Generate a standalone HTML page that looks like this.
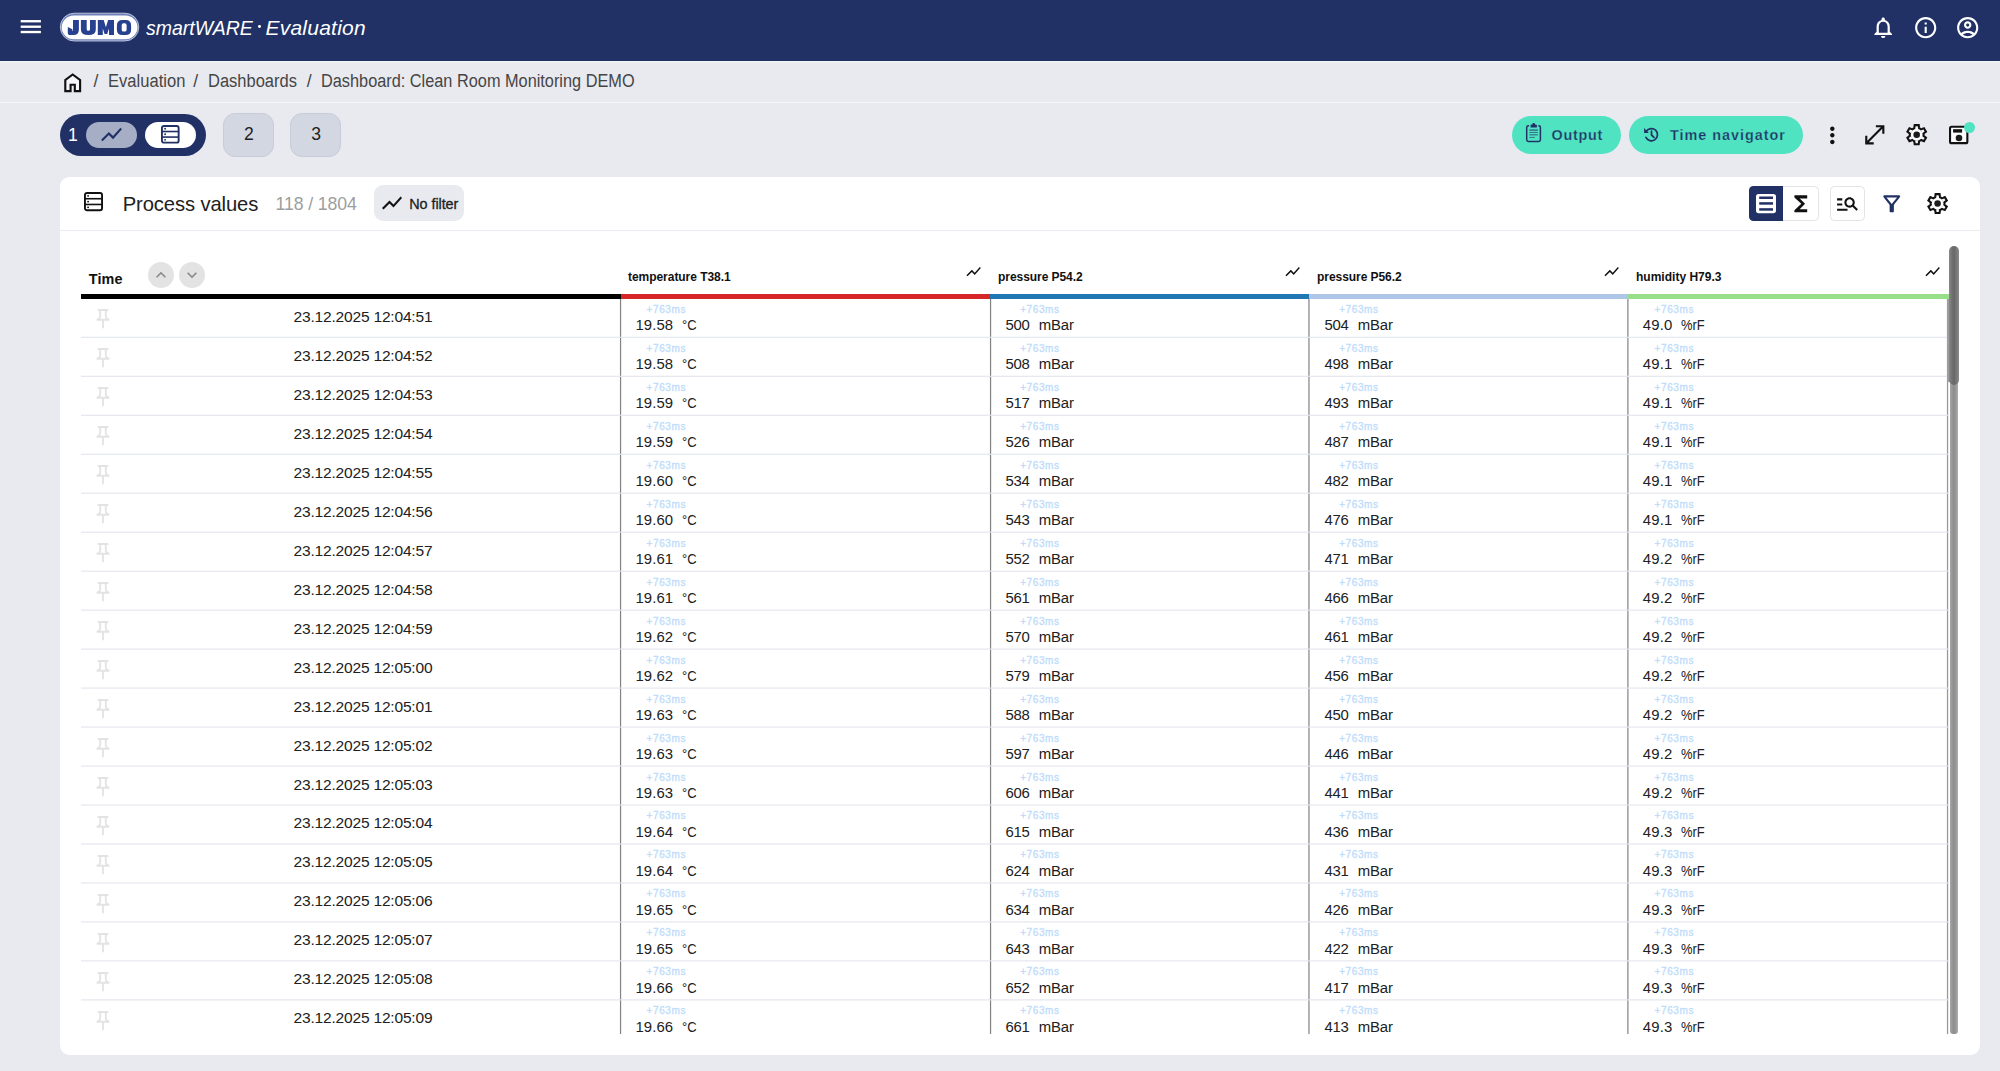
<!DOCTYPE html>
<html><head><meta charset="utf-8"><title>JUMO smartWARE Evaluation</title>
<style>
html,body{margin:0;padding:0}
body{width:2000px;height:1071px;overflow:hidden;background:#e9eaf0;font-family:"Liberation Sans",sans-serif;position:relative}
.t{position:absolute;white-space:pre;}
.a{position:absolute}
svg{position:absolute;overflow:visible}
</style></head><body>

<div class="a" style="left:0;top:0;width:2000px;height:61px;background:#213166"></div>
<div class="a" style="left:0;top:61px;width:2000px;height:2px;background:#eff0f4"></div>
<svg style="left:0;top:0" width="60" height="60" viewBox="0 0 60 60"><g fill="#fff"><rect x="20.7" y="20.05" width="20.2" height="2.35"/><rect x="20.7" y="25.55" width="20.2" height="2.35"/><rect x="20.7" y="30.85" width="20.2" height="2.35"/></g></svg>
<svg style="left:0px;top:0px" width="160" height="60" viewBox="0 0 160 60">
<rect x="60.3" y="13.2" width="78.5" height="27.8" rx="13.9" fill="#6f80b9" stroke="#d5daee" stroke-width="0.8"/>
<rect x="61.75" y="15.4" width="75.7" height="23.9" rx="11.95" fill="#fff"/>
<g fill="#27408f" stroke="none">
<path d="M73 19.9h5.9v9.6q0 5.5-5.6 5.5h-3.2q-2.3 0-2.3-2.6v-5.4l4.6 2.2v1.2q0 .5.6.5z"/>
<path d="M80.9 19.9h5.8v9.3q0 1.6 1.65 1.6t1.65-1.6v-9.3h5.8v9.6q0 5.5-7.45 5.5t-7.45-5.5z"/>
<path d="M97.8 35V19.9h5.9l2.2 7.4 2.2-7.4h5.9V35h-5v-6.6l-1.8 5.6h-2.6l-1.8-5.6V35z"/>
<path fill-rule="evenodd" d="M122.4 19.9h3.2q5.5 0 5.5 5.5v4.1q0 5.5-5.5 5.5h-3.2q-5.5 0-5.5-5.500v-4.100q0-5.500 5.500-5.500zM123.6 23.300q-1.900 0-1.900 1.900v4.500q0 1.900 1.900 1.900h1.100q1.900 0 1.900-1.900v-4.500q0-1.900-1.900-1.900z"/>
</g>
</svg>
<div class="a" style="left:258.3px;top:25.3px;width:2.8px;height:2.8px;background:#fff;border-radius:50%"></div>
<div class="a" style="left:0;top:102px;width:2000px;height:1.2px;background:#f6f6fa"></div>
<div class="a" style="left:60px;top:113.6px;width:146.4px;height:42.4px;border-radius:21.2px;background:#213166"></div>
<div class="a" style="left:85.6px;top:121.6px;width:51.2px;height:26.2px;border-radius:13.1px;background:#a6aec6"></div>
<div class="a" style="left:144.8px;top:121.6px;width:51.2px;height:26.2px;border-radius:13.1px;background:#fff"></div>
<div class="a" style="left:223.2px;top:112.8px;width:50.4px;height:44px;border-radius:12px;background:#d3d7e2;box-sizing:border-box;border:1px solid #c8ccd9"></div>
<div class="a" style="left:290.4px;top:112.8px;width:50.4px;height:44px;border-radius:12px;background:#d3d7e2;box-sizing:border-box;border:1px solid #c8ccd9"></div>
<div class="a" style="left:1511.5px;top:116px;width:109.5px;height:38px;border-radius:19px;background:#50e3c2"></div>
<div class="a" style="left:1629.3px;top:116px;width:174px;height:38px;border-radius:19px;background:#50e3c2"></div>
<div class="a" style="left:60px;top:177px;width:1920px;height:878px;border-radius:9.5px;background:#fff"></div>
<div class="a" style="left:60px;top:229.8px;width:1920px;height:1.3px;background:#ebecf2"></div>
<div class="a" style="left:374px;top:185px;width:90px;height:35.6px;border-radius:9px;background:#e9eaf0"></div>
<div class="a" style="left:1749.2px;top:186px;width:69.5px;height:34.5px;border-radius:4.5px;background:#fff;box-sizing:border-box;border:1px solid #e3e3e8"></div>
<div class="a" style="left:1749.2px;top:186px;width:33.8px;height:34.5px;border-radius:4.5px 0 0 4.5px;background:#213166"></div>
<div class="a" style="left:1829.5px;top:186px;width:35.2px;height:34.5px;border-radius:4.5px;background:#fff;box-sizing:border-box;border:1px solid #e3e3e8"></div>
<div class="a" style="left:60px;top:240px;width:1920px;height:794px;overflow:hidden"><div class="a" style="left:-60px;top:-240px;width:2000px;height:1071px">
<div class="a" style="left:81px;top:294px;width:540px;height:4.9px;background:#000"></div>
<div class="a" style="left:621px;top:294px;width:369px;height:4.9px;background:#d62728"></div>
<div class="a" style="left:990px;top:294px;width:319px;height:4.9px;background:#1f77b4"></div>
<div class="a" style="left:1309px;top:294px;width:319px;height:4.9px;background:#aec7e8"></div>
<div class="a" style="left:1628px;top:294px;width:321px;height:4.9px;background:#98df8a"></div>
<div class="a" style="left:147.5px;top:262.29999999999995px;width:26.2px;height:26.2px;border-radius:50%;background:#e3e3e3"></div>
<div class="a" style="left:178.8px;top:262.29999999999995px;width:26.2px;height:26.2px;border-radius:50%;background:#e3e3e3"></div>
<svg style="left:0;top:0" width="2000" height="1071" viewBox="0 0 2000 1071"><rect x="619.95" y="299" width="1.2" height="760" fill="#828282"/><rect x="989.95" y="299" width="1.2" height="760" fill="#828282"/><rect x="1308.35" y="299" width="1.2" height="760" fill="#828282"/><rect x="1627.30" y="299" width="1.2" height="760" fill="#828282"/><rect x="1946.9" y="299" width="1.3" height="760" fill="#999"/><rect x="81" y="336.75" width="1867" height="1.15" fill="#e4e6ee"/><rect x="81" y="375.72" width="1867" height="1.15" fill="#e4e6ee"/><rect x="81" y="414.70" width="1867" height="1.15" fill="#e4e6ee"/><rect x="81" y="453.67" width="1867" height="1.15" fill="#e4e6ee"/><rect x="81" y="492.65" width="1867" height="1.15" fill="#e4e6ee"/><rect x="81" y="531.62" width="1867" height="1.15" fill="#e4e6ee"/><rect x="81" y="570.59" width="1867" height="1.15" fill="#e4e6ee"/><rect x="81" y="609.57" width="1867" height="1.15" fill="#e4e6ee"/><rect x="81" y="648.54" width="1867" height="1.15" fill="#e4e6ee"/><rect x="81" y="687.52" width="1867" height="1.15" fill="#e4e6ee"/><rect x="81" y="726.49" width="1867" height="1.15" fill="#e4e6ee"/><rect x="81" y="765.46" width="1867" height="1.15" fill="#e4e6ee"/><rect x="81" y="804.44" width="1867" height="1.15" fill="#e4e6ee"/><rect x="81" y="843.41" width="1867" height="1.15" fill="#e4e6ee"/><rect x="81" y="882.39" width="1867" height="1.15" fill="#e4e6ee"/><rect x="81" y="921.36" width="1867" height="1.15" fill="#e4e6ee"/><rect x="81" y="960.33" width="1867" height="1.15" fill="#e4e6ee"/><rect x="81" y="999.31" width="1867" height="1.15" fill="#e4e6ee"/><rect x="81" y="1038.28" width="1867" height="1.15" fill="#e4e6ee"/></svg>
<div class="t" style="left:88.80px;top:271.81px;font-size:14.4px;line-height:14.4px;font-weight:700;color:#111;letter-spacing:0.125px;">Time</div>
<div class="t" style="left:628.00px;top:270.74px;font-size:12px;line-height:12px;font-weight:700;color:#111;letter-spacing:-0.044px;">temperature T38.1</div>
<div class="t" style="left:998.00px;top:270.74px;font-size:12px;line-height:12px;font-weight:700;color:#111;letter-spacing:-0.055px;">pressure P54.2</div>
<div class="t" style="left:1317.00px;top:270.74px;font-size:12px;line-height:12px;font-weight:700;color:#111;letter-spacing:-0.055px;">pressure P56.2</div>
<div class="t" style="left:1636.00px;top:270.74px;font-size:12px;line-height:12px;font-weight:700;color:#111;letter-spacing:0.009px;">humidity H79.3</div>
<svg style="left:92.20px;top:307.46px" width="22.000" height="23.600" viewBox="0 0 24 24" preserveAspectRatio="none"><path fill="#e3e3e3"  d="M14 4v5c0 1.120.37 2.160 1 3H9c.65-.86 1-1.900 1-3V4h4m3-2H7c-.55 0-1 .45-1 1s.45 1 1 1h1v5c0 1.660-1.340 3-3 3v2h5.970v7l1 1 1-1v-7H19v-2c-1.660 0-3-1.340-3-3V4h1c.55 0 1-.45 1-1s-.45-1-1-1z"/></svg>
<svg style="left:92.20px;top:346.42px" width="22.000" height="23.600" viewBox="0 0 24 24" preserveAspectRatio="none"><path fill="#e3e3e3"  d="M14 4v5c0 1.120.37 2.160 1 3H9c.65-.86 1-1.900 1-3V4h4m3-2H7c-.55 0-1 .45-1 1s.45 1 1 1h1v5c0 1.660-1.340 3-3 3v2h5.970v7l1 1 1-1v-7H19v-2c-1.660 0-3-1.340-3-3V4h1c.55 0 1-.45 1-1s-.45-1-1-1z"/></svg>
<svg style="left:92.20px;top:385.38px" width="22.000" height="23.600" viewBox="0 0 24 24" preserveAspectRatio="none"><path fill="#e3e3e3"  d="M14 4v5c0 1.120.37 2.160 1 3H9c.65-.86 1-1.900 1-3V4h4m3-2H7c-.55 0-1 .45-1 1s.45 1 1 1h1v5c0 1.660-1.340 3-3 3v2h5.970v7l1 1 1-1v-7H19v-2c-1.660 0-3-1.340-3-3V4h1c.55 0 1-.45 1-1s-.45-1-1-1z"/></svg>
<svg style="left:92.20px;top:424.34px" width="22.000" height="23.600" viewBox="0 0 24 24" preserveAspectRatio="none"><path fill="#e3e3e3"  d="M14 4v5c0 1.120.37 2.160 1 3H9c.65-.86 1-1.900 1-3V4h4m3-2H7c-.55 0-1 .45-1 1s.45 1 1 1h1v5c0 1.660-1.340 3-3 3v2h5.970v7l1 1 1-1v-7H19v-2c-1.660 0-3-1.340-3-3V4h1c.55 0 1-.45 1-1s-.45-1-1-1z"/></svg>
<svg style="left:92.20px;top:463.30px" width="22.000" height="23.600" viewBox="0 0 24 24" preserveAspectRatio="none"><path fill="#e3e3e3"  d="M14 4v5c0 1.120.37 2.160 1 3H9c.65-.86 1-1.900 1-3V4h4m3-2H7c-.55 0-1 .45-1 1s.45 1 1 1h1v5c0 1.660-1.340 3-3 3v2h5.970v7l1 1 1-1v-7H19v-2c-1.660 0-3-1.340-3-3V4h1c.55 0 1-.45 1-1s-.45-1-1-1z"/></svg>
<svg style="left:92.20px;top:502.26px" width="22.000" height="23.600" viewBox="0 0 24 24" preserveAspectRatio="none"><path fill="#e3e3e3"  d="M14 4v5c0 1.120.37 2.160 1 3H9c.65-.86 1-1.900 1-3V4h4m3-2H7c-.55 0-1 .45-1 1s.45 1 1 1h1v5c0 1.660-1.340 3-3 3v2h5.970v7l1 1 1-1v-7H19v-2c-1.660 0-3-1.340-3-3V4h1c.55 0 1-.45 1-1s-.45-1-1-1z"/></svg>
<svg style="left:92.20px;top:541.22px" width="22.000" height="23.600" viewBox="0 0 24 24" preserveAspectRatio="none"><path fill="#e3e3e3"  d="M14 4v5c0 1.120.37 2.160 1 3H9c.65-.86 1-1.900 1-3V4h4m3-2H7c-.55 0-1 .45-1 1s.45 1 1 1h1v5c0 1.660-1.340 3-3 3v2h5.970v7l1 1 1-1v-7H19v-2c-1.660 0-3-1.340-3-3V4h1c.55 0 1-.45 1-1s-.45-1-1-1z"/></svg>
<svg style="left:92.20px;top:580.18px" width="22.000" height="23.600" viewBox="0 0 24 24" preserveAspectRatio="none"><path fill="#e3e3e3"  d="M14 4v5c0 1.120.37 2.160 1 3H9c.65-.86 1-1.900 1-3V4h4m3-2H7c-.55 0-1 .45-1 1s.45 1 1 1h1v5c0 1.660-1.340 3-3 3v2h5.970v7l1 1 1-1v-7H19v-2c-1.660 0-3-1.340-3-3V4h1c.55 0 1-.45 1-1s-.45-1-1-1z"/></svg>
<svg style="left:92.20px;top:619.14px" width="22.000" height="23.600" viewBox="0 0 24 24" preserveAspectRatio="none"><path fill="#e3e3e3"  d="M14 4v5c0 1.120.37 2.160 1 3H9c.65-.86 1-1.900 1-3V4h4m3-2H7c-.55 0-1 .45-1 1s.45 1 1 1h1v5c0 1.660-1.340 3-3 3v2h5.970v7l1 1 1-1v-7H19v-2c-1.660 0-3-1.340-3-3V4h1c.55 0 1-.45 1-1s-.45-1-1-1z"/></svg>
<svg style="left:92.20px;top:658.10px" width="22.000" height="23.600" viewBox="0 0 24 24" preserveAspectRatio="none"><path fill="#e3e3e3"  d="M14 4v5c0 1.120.37 2.160 1 3H9c.65-.86 1-1.900 1-3V4h4m3-2H7c-.55 0-1 .45-1 1s.45 1 1 1h1v5c0 1.660-1.340 3-3 3v2h5.970v7l1 1 1-1v-7H19v-2c-1.660 0-3-1.340-3-3V4h1c.55 0 1-.45 1-1s-.45-1-1-1z"/></svg>
<svg style="left:92.20px;top:697.06px" width="22.000" height="23.600" viewBox="0 0 24 24" preserveAspectRatio="none"><path fill="#e3e3e3"  d="M14 4v5c0 1.120.37 2.160 1 3H9c.65-.86 1-1.900 1-3V4h4m3-2H7c-.55 0-1 .45-1 1s.45 1 1 1h1v5c0 1.660-1.340 3-3 3v2h5.970v7l1 1 1-1v-7H19v-2c-1.660 0-3-1.340-3-3V4h1c.55 0 1-.45 1-1s-.45-1-1-1z"/></svg>
<svg style="left:92.20px;top:736.02px" width="22.000" height="23.600" viewBox="0 0 24 24" preserveAspectRatio="none"><path fill="#e3e3e3"  d="M14 4v5c0 1.120.37 2.160 1 3H9c.65-.86 1-1.900 1-3V4h4m3-2H7c-.55 0-1 .45-1 1s.45 1 1 1h1v5c0 1.660-1.340 3-3 3v2h5.970v7l1 1 1-1v-7H19v-2c-1.660 0-3-1.340-3-3V4h1c.55 0 1-.45 1-1s-.45-1-1-1z"/></svg>
<svg style="left:92.20px;top:774.98px" width="22.000" height="23.600" viewBox="0 0 24 24" preserveAspectRatio="none"><path fill="#e3e3e3"  d="M14 4v5c0 1.120.37 2.160 1 3H9c.65-.86 1-1.900 1-3V4h4m3-2H7c-.55 0-1 .45-1 1s.45 1 1 1h1v5c0 1.660-1.340 3-3 3v2h5.970v7l1 1 1-1v-7H19v-2c-1.660 0-3-1.340-3-3V4h1c.55 0 1-.45 1-1s-.45-1-1-1z"/></svg>
<svg style="left:92.20px;top:813.94px" width="22.000" height="23.600" viewBox="0 0 24 24" preserveAspectRatio="none"><path fill="#e3e3e3"  d="M14 4v5c0 1.120.37 2.160 1 3H9c.65-.86 1-1.900 1-3V4h4m3-2H7c-.55 0-1 .45-1 1s.45 1 1 1h1v5c0 1.660-1.340 3-3 3v2h5.970v7l1 1 1-1v-7H19v-2c-1.660 0-3-1.340-3-3V4h1c.55 0 1-.45 1-1s-.45-1-1-1z"/></svg>
<svg style="left:92.20px;top:852.90px" width="22.000" height="23.600" viewBox="0 0 24 24" preserveAspectRatio="none"><path fill="#e3e3e3"  d="M14 4v5c0 1.120.37 2.160 1 3H9c.65-.86 1-1.900 1-3V4h4m3-2H7c-.55 0-1 .45-1 1s.45 1 1 1h1v5c0 1.660-1.340 3-3 3v2h5.970v7l1 1 1-1v-7H19v-2c-1.660 0-3-1.340-3-3V4h1c.55 0 1-.45 1-1s-.45-1-1-1z"/></svg>
<svg style="left:92.20px;top:891.86px" width="22.000" height="23.600" viewBox="0 0 24 24" preserveAspectRatio="none"><path fill="#e3e3e3"  d="M14 4v5c0 1.120.37 2.160 1 3H9c.65-.86 1-1.900 1-3V4h4m3-2H7c-.55 0-1 .45-1 1s.45 1 1 1h1v5c0 1.660-1.340 3-3 3v2h5.970v7l1 1 1-1v-7H19v-2c-1.660 0-3-1.340-3-3V4h1c.55 0 1-.45 1-1s-.45-1-1-1z"/></svg>
<svg style="left:92.20px;top:930.82px" width="22.000" height="23.600" viewBox="0 0 24 24" preserveAspectRatio="none"><path fill="#e3e3e3"  d="M14 4v5c0 1.120.37 2.160 1 3H9c.65-.86 1-1.900 1-3V4h4m3-2H7c-.55 0-1 .45-1 1s.45 1 1 1h1v5c0 1.660-1.340 3-3 3v2h5.970v7l1 1 1-1v-7H19v-2c-1.660 0-3-1.340-3-3V4h1c.55 0 1-.45 1-1s-.45-1-1-1z"/></svg>
<svg style="left:92.20px;top:969.78px" width="22.000" height="23.600" viewBox="0 0 24 24" preserveAspectRatio="none"><path fill="#e3e3e3"  d="M14 4v5c0 1.120.37 2.160 1 3H9c.65-.86 1-1.900 1-3V4h4m3-2H7c-.55 0-1 .45-1 1s.45 1 1 1h1v5c0 1.660-1.340 3-3 3v2h5.970v7l1 1 1-1v-7H19v-2c-1.660 0-3-1.340-3-3V4h1c.55 0 1-.45 1-1s-.45-1-1-1z"/></svg>
<svg style="left:92.20px;top:1008.74px" width="22.000" height="23.600" viewBox="0 0 24 24" preserveAspectRatio="none"><path fill="#e3e3e3"  d="M14 4v5c0 1.120.37 2.160 1 3H9c.65-.86 1-1.900 1-3V4h4m3-2H7c-.55 0-1 .45-1 1s.45 1 1 1h1v5c0 1.660-1.340 3-3 3v2h5.970v7l1 1 1-1v-7H19v-2c-1.660 0-3-1.340-3-3V4h1c.55 0 1-.45 1-1s-.45-1-1-1z"/></svg>
</div></div>
<div class="a" style="left:1947px;top:299px;width:3px;height:83px;background:#9e9e9e"></div>
<div class="a" style="left:1950px;top:380px;width:8px;height:654px;background:linear-gradient(to right,#a6a6a6,#8e8e8e 45%,#909090 60%,#adadad);border-radius:0 0 3px 3px"></div>
<div class="a" style="left:1948.6px;top:246.2px;width:10px;height:138.6px;background:linear-gradient(to right,#888,#6a6a6a 40%,#6a6a6a 55%,#8a8a8a);border-radius:5px"></div>
<div class="t" style="left:146.20px;top:16.62px;font-size:21px;line-height:21px;font-weight:400;color:#fff;letter-spacing:0.000px;transform:scaleX(0.9284);transform-origin:0 0;font-style:italic;">smartWARE</div>
<div class="t" style="left:265.40px;top:16.62px;font-size:21px;line-height:21px;font-weight:400;color:#fff;letter-spacing:0.246px;font-style:italic;">Evaluation</div>
<div class="t" style="left:93.50px;top:73.10px;font-size:17.6px;line-height:17.6px;font-weight:400;color:#454545;letter-spacing:0.000px;">/</div>
<div class="t" style="left:108.36px;top:73.10px;font-size:17.6px;line-height:17.6px;font-weight:400;color:#454545;letter-spacing:0.000px;transform:scaleX(0.9418);transform-origin:0 0;">Evaluation</div>
<div class="t" style="left:193.20px;top:73.10px;font-size:17.6px;line-height:17.6px;font-weight:400;color:#454545;letter-spacing:0.000px;">/</div>
<div class="t" style="left:208.36px;top:73.10px;font-size:17.6px;line-height:17.6px;font-weight:400;color:#454545;letter-spacing:0.000px;transform:scaleX(0.9376);transform-origin:0 0;">Dashboards</div>
<div class="t" style="left:306.80px;top:73.10px;font-size:17.6px;line-height:17.6px;font-weight:400;color:#454545;letter-spacing:0.000px;">/</div>
<div class="t" style="left:320.67px;top:73.10px;font-size:17.6px;line-height:17.6px;font-weight:400;color:#454545;letter-spacing:0.000px;transform:scaleX(0.9268);transform-origin:0 0;">Dashboard: Clean Room Monitoring DEMO</div>
<div class="t" style="left:68.00px;top:126.90px;font-size:17.6px;line-height:17.6px;font-weight:400;color:#fff;letter-spacing:0.000px;">1</div>
<div class="t" style="left:244.00px;top:125.70px;font-size:17.6px;line-height:17.6px;font-weight:400;color:#212121;letter-spacing:0.000px;">2</div>
<div class="t" style="left:311.20px;top:125.70px;font-size:17.6px;line-height:17.6px;font-weight:400;color:#212121;letter-spacing:0.000px;">3</div>
<div class="t" style="left:1551.60px;top:127.71px;font-size:14.4px;line-height:14.4px;font-weight:700;color:#213166;letter-spacing:0.689px;-webkit-text-stroke:0.25px #50e3c2;">Output</div>
<div class="t" style="left:1670.00px;top:127.71px;font-size:14.4px;line-height:14.4px;font-weight:700;color:#213166;letter-spacing:0.977px;-webkit-text-stroke:0.25px #50e3c2;">Time navigator</div>
<div class="t" style="left:122.70px;top:193.70px;font-size:20.2px;line-height:20.2px;font-weight:400;color:#212121;letter-spacing:-0.099px;">Process values</div>
<div class="t" style="left:275.60px;top:195.82px;font-size:17.7px;line-height:17.7px;font-weight:400;color:#9e9e9e;letter-spacing:-0.117px;">118 / 1804</div>
<div class="t" style="left:409.30px;top:196.61px;font-size:14.4px;line-height:14.4px;font-weight:400;color:#212121;letter-spacing:-0.074px;-webkit-text-stroke:0.3px #212121;">No filter</div>
<div class="t" style="left:293.60px;top:309.00px;font-size:15.55px;line-height:15.55px;font-weight:400;color:#212121;letter-spacing:-0.206px;">23.12.2025 12:04:51</div>
<div class="t" style="left:646.55px;top:305.00px;font-size:10px;line-height:10px;font-weight:400;color:#bedcfa;letter-spacing:0.609px;-webkit-text-stroke:0.3px #bedcfa;">+763ms</div>
<div class="t" style="left:635.40px;top:318.35px;font-size:14.9px;line-height:14.9px;font-weight:400;color:#212121;letter-spacing:0.105px;">19.58</div>
<div class="t" style="left:681.60px;top:318.35px;font-size:14.9px;line-height:14.9px;font-weight:400;color:#212121;letter-spacing:0.000px;transform:scaleX(0.8729);transform-origin:0 0;">°C</div>
<div class="t" style="left:1020.15px;top:305.00px;font-size:10px;line-height:10px;font-weight:400;color:#bedcfa;letter-spacing:0.609px;-webkit-text-stroke:0.3px #bedcfa;">+763ms</div>
<div class="t" style="left:1005.60px;top:318.35px;font-size:14.9px;line-height:14.9px;font-weight:400;color:#212121;letter-spacing:-0.281px;">500</div>
<div class="t" style="left:1038.80px;top:318.35px;font-size:14.9px;line-height:14.9px;font-weight:400;color:#212121;letter-spacing:-0.139px;">mBar</div>
<div class="t" style="left:1339.15px;top:305.00px;font-size:10px;line-height:10px;font-weight:400;color:#bedcfa;letter-spacing:0.609px;-webkit-text-stroke:0.3px #bedcfa;">+763ms</div>
<div class="t" style="left:1324.60px;top:318.35px;font-size:14.9px;line-height:14.9px;font-weight:400;color:#212121;letter-spacing:-0.281px;">504</div>
<div class="t" style="left:1357.80px;top:318.35px;font-size:14.9px;line-height:14.9px;font-weight:400;color:#212121;letter-spacing:-0.139px;">mBar</div>
<div class="t" style="left:1654.55px;top:305.00px;font-size:10px;line-height:10px;font-weight:400;color:#bedcfa;letter-spacing:0.609px;-webkit-text-stroke:0.3px #bedcfa;">+763ms</div>
<div class="t" style="left:1642.80px;top:318.35px;font-size:14.9px;line-height:14.9px;font-weight:400;color:#212121;letter-spacing:0.167px;">49.0</div>
<div class="t" style="left:1680.80px;top:318.35px;font-size:14.9px;line-height:14.9px;font-weight:400;color:#212121;letter-spacing:0.000px;transform:scaleX(0.8677);transform-origin:0 0;">%rF</div>
<div class="t" style="left:293.60px;top:347.96px;font-size:15.55px;line-height:15.55px;font-weight:400;color:#212121;letter-spacing:-0.206px;">23.12.2025 12:04:52</div>
<div class="t" style="left:646.55px;top:343.96px;font-size:10px;line-height:10px;font-weight:400;color:#bedcfa;letter-spacing:0.609px;-webkit-text-stroke:0.3px #bedcfa;">+763ms</div>
<div class="t" style="left:635.40px;top:357.31px;font-size:14.9px;line-height:14.9px;font-weight:400;color:#212121;letter-spacing:0.105px;">19.58</div>
<div class="t" style="left:681.60px;top:357.31px;font-size:14.9px;line-height:14.9px;font-weight:400;color:#212121;letter-spacing:0.000px;transform:scaleX(0.8729);transform-origin:0 0;">°C</div>
<div class="t" style="left:1020.15px;top:343.96px;font-size:10px;line-height:10px;font-weight:400;color:#bedcfa;letter-spacing:0.609px;-webkit-text-stroke:0.3px #bedcfa;">+763ms</div>
<div class="t" style="left:1005.60px;top:357.31px;font-size:14.9px;line-height:14.9px;font-weight:400;color:#212121;letter-spacing:-0.281px;">508</div>
<div class="t" style="left:1038.80px;top:357.31px;font-size:14.9px;line-height:14.9px;font-weight:400;color:#212121;letter-spacing:-0.139px;">mBar</div>
<div class="t" style="left:1339.15px;top:343.96px;font-size:10px;line-height:10px;font-weight:400;color:#bedcfa;letter-spacing:0.609px;-webkit-text-stroke:0.3px #bedcfa;">+763ms</div>
<div class="t" style="left:1324.60px;top:357.31px;font-size:14.9px;line-height:14.9px;font-weight:400;color:#212121;letter-spacing:-0.281px;">498</div>
<div class="t" style="left:1357.80px;top:357.31px;font-size:14.9px;line-height:14.9px;font-weight:400;color:#212121;letter-spacing:-0.139px;">mBar</div>
<div class="t" style="left:1654.55px;top:343.96px;font-size:10px;line-height:10px;font-weight:400;color:#bedcfa;letter-spacing:0.609px;-webkit-text-stroke:0.3px #bedcfa;">+763ms</div>
<div class="t" style="left:1642.80px;top:357.31px;font-size:14.9px;line-height:14.9px;font-weight:400;color:#212121;letter-spacing:0.167px;">49.1</div>
<div class="t" style="left:1680.80px;top:357.31px;font-size:14.9px;line-height:14.9px;font-weight:400;color:#212121;letter-spacing:0.000px;transform:scaleX(0.8677);transform-origin:0 0;">%rF</div>
<div class="t" style="left:293.60px;top:386.92px;font-size:15.55px;line-height:15.55px;font-weight:400;color:#212121;letter-spacing:-0.206px;">23.12.2025 12:04:53</div>
<div class="t" style="left:646.55px;top:382.92px;font-size:10px;line-height:10px;font-weight:400;color:#bedcfa;letter-spacing:0.609px;-webkit-text-stroke:0.3px #bedcfa;">+763ms</div>
<div class="t" style="left:635.40px;top:396.27px;font-size:14.9px;line-height:14.9px;font-weight:400;color:#212121;letter-spacing:0.105px;">19.59</div>
<div class="t" style="left:681.60px;top:396.27px;font-size:14.9px;line-height:14.9px;font-weight:400;color:#212121;letter-spacing:0.000px;transform:scaleX(0.8729);transform-origin:0 0;">°C</div>
<div class="t" style="left:1020.15px;top:382.92px;font-size:10px;line-height:10px;font-weight:400;color:#bedcfa;letter-spacing:0.609px;-webkit-text-stroke:0.3px #bedcfa;">+763ms</div>
<div class="t" style="left:1005.60px;top:396.27px;font-size:14.9px;line-height:14.9px;font-weight:400;color:#212121;letter-spacing:-0.281px;">517</div>
<div class="t" style="left:1038.80px;top:396.27px;font-size:14.9px;line-height:14.9px;font-weight:400;color:#212121;letter-spacing:-0.139px;">mBar</div>
<div class="t" style="left:1339.15px;top:382.92px;font-size:10px;line-height:10px;font-weight:400;color:#bedcfa;letter-spacing:0.609px;-webkit-text-stroke:0.3px #bedcfa;">+763ms</div>
<div class="t" style="left:1324.60px;top:396.27px;font-size:14.9px;line-height:14.9px;font-weight:400;color:#212121;letter-spacing:-0.281px;">493</div>
<div class="t" style="left:1357.80px;top:396.27px;font-size:14.9px;line-height:14.9px;font-weight:400;color:#212121;letter-spacing:-0.139px;">mBar</div>
<div class="t" style="left:1654.55px;top:382.92px;font-size:10px;line-height:10px;font-weight:400;color:#bedcfa;letter-spacing:0.609px;-webkit-text-stroke:0.3px #bedcfa;">+763ms</div>
<div class="t" style="left:1642.80px;top:396.27px;font-size:14.9px;line-height:14.9px;font-weight:400;color:#212121;letter-spacing:0.167px;">49.1</div>
<div class="t" style="left:1680.80px;top:396.27px;font-size:14.9px;line-height:14.9px;font-weight:400;color:#212121;letter-spacing:0.000px;transform:scaleX(0.8677);transform-origin:0 0;">%rF</div>
<div class="t" style="left:293.60px;top:425.88px;font-size:15.55px;line-height:15.55px;font-weight:400;color:#212121;letter-spacing:-0.206px;">23.12.2025 12:04:54</div>
<div class="t" style="left:646.55px;top:421.88px;font-size:10px;line-height:10px;font-weight:400;color:#bedcfa;letter-spacing:0.609px;-webkit-text-stroke:0.3px #bedcfa;">+763ms</div>
<div class="t" style="left:635.40px;top:435.23px;font-size:14.9px;line-height:14.9px;font-weight:400;color:#212121;letter-spacing:0.105px;">19.59</div>
<div class="t" style="left:681.60px;top:435.23px;font-size:14.9px;line-height:14.9px;font-weight:400;color:#212121;letter-spacing:0.000px;transform:scaleX(0.8729);transform-origin:0 0;">°C</div>
<div class="t" style="left:1020.15px;top:421.88px;font-size:10px;line-height:10px;font-weight:400;color:#bedcfa;letter-spacing:0.609px;-webkit-text-stroke:0.3px #bedcfa;">+763ms</div>
<div class="t" style="left:1005.60px;top:435.23px;font-size:14.9px;line-height:14.9px;font-weight:400;color:#212121;letter-spacing:-0.281px;">526</div>
<div class="t" style="left:1038.80px;top:435.23px;font-size:14.9px;line-height:14.9px;font-weight:400;color:#212121;letter-spacing:-0.139px;">mBar</div>
<div class="t" style="left:1339.15px;top:421.88px;font-size:10px;line-height:10px;font-weight:400;color:#bedcfa;letter-spacing:0.609px;-webkit-text-stroke:0.3px #bedcfa;">+763ms</div>
<div class="t" style="left:1324.60px;top:435.23px;font-size:14.9px;line-height:14.9px;font-weight:400;color:#212121;letter-spacing:-0.281px;">487</div>
<div class="t" style="left:1357.80px;top:435.23px;font-size:14.9px;line-height:14.9px;font-weight:400;color:#212121;letter-spacing:-0.139px;">mBar</div>
<div class="t" style="left:1654.55px;top:421.88px;font-size:10px;line-height:10px;font-weight:400;color:#bedcfa;letter-spacing:0.609px;-webkit-text-stroke:0.3px #bedcfa;">+763ms</div>
<div class="t" style="left:1642.80px;top:435.23px;font-size:14.9px;line-height:14.9px;font-weight:400;color:#212121;letter-spacing:0.167px;">49.1</div>
<div class="t" style="left:1680.80px;top:435.23px;font-size:14.9px;line-height:14.9px;font-weight:400;color:#212121;letter-spacing:0.000px;transform:scaleX(0.8677);transform-origin:0 0;">%rF</div>
<div class="t" style="left:293.60px;top:464.84px;font-size:15.55px;line-height:15.55px;font-weight:400;color:#212121;letter-spacing:-0.206px;">23.12.2025 12:04:55</div>
<div class="t" style="left:646.55px;top:460.84px;font-size:10px;line-height:10px;font-weight:400;color:#bedcfa;letter-spacing:0.609px;-webkit-text-stroke:0.3px #bedcfa;">+763ms</div>
<div class="t" style="left:635.40px;top:474.19px;font-size:14.9px;line-height:14.9px;font-weight:400;color:#212121;letter-spacing:0.105px;">19.60</div>
<div class="t" style="left:681.60px;top:474.19px;font-size:14.9px;line-height:14.9px;font-weight:400;color:#212121;letter-spacing:0.000px;transform:scaleX(0.8729);transform-origin:0 0;">°C</div>
<div class="t" style="left:1020.15px;top:460.84px;font-size:10px;line-height:10px;font-weight:400;color:#bedcfa;letter-spacing:0.609px;-webkit-text-stroke:0.3px #bedcfa;">+763ms</div>
<div class="t" style="left:1005.60px;top:474.19px;font-size:14.9px;line-height:14.9px;font-weight:400;color:#212121;letter-spacing:-0.281px;">534</div>
<div class="t" style="left:1038.80px;top:474.19px;font-size:14.9px;line-height:14.9px;font-weight:400;color:#212121;letter-spacing:-0.139px;">mBar</div>
<div class="t" style="left:1339.15px;top:460.84px;font-size:10px;line-height:10px;font-weight:400;color:#bedcfa;letter-spacing:0.609px;-webkit-text-stroke:0.3px #bedcfa;">+763ms</div>
<div class="t" style="left:1324.60px;top:474.19px;font-size:14.9px;line-height:14.9px;font-weight:400;color:#212121;letter-spacing:-0.281px;">482</div>
<div class="t" style="left:1357.80px;top:474.19px;font-size:14.9px;line-height:14.9px;font-weight:400;color:#212121;letter-spacing:-0.139px;">mBar</div>
<div class="t" style="left:1654.55px;top:460.84px;font-size:10px;line-height:10px;font-weight:400;color:#bedcfa;letter-spacing:0.609px;-webkit-text-stroke:0.3px #bedcfa;">+763ms</div>
<div class="t" style="left:1642.80px;top:474.19px;font-size:14.9px;line-height:14.9px;font-weight:400;color:#212121;letter-spacing:0.167px;">49.1</div>
<div class="t" style="left:1680.80px;top:474.19px;font-size:14.9px;line-height:14.9px;font-weight:400;color:#212121;letter-spacing:0.000px;transform:scaleX(0.8677);transform-origin:0 0;">%rF</div>
<div class="t" style="left:293.60px;top:503.80px;font-size:15.55px;line-height:15.55px;font-weight:400;color:#212121;letter-spacing:-0.206px;">23.12.2025 12:04:56</div>
<div class="t" style="left:646.55px;top:499.80px;font-size:10px;line-height:10px;font-weight:400;color:#bedcfa;letter-spacing:0.609px;-webkit-text-stroke:0.3px #bedcfa;">+763ms</div>
<div class="t" style="left:635.40px;top:513.15px;font-size:14.9px;line-height:14.9px;font-weight:400;color:#212121;letter-spacing:0.105px;">19.60</div>
<div class="t" style="left:681.60px;top:513.15px;font-size:14.9px;line-height:14.9px;font-weight:400;color:#212121;letter-spacing:0.000px;transform:scaleX(0.8729);transform-origin:0 0;">°C</div>
<div class="t" style="left:1020.15px;top:499.80px;font-size:10px;line-height:10px;font-weight:400;color:#bedcfa;letter-spacing:0.609px;-webkit-text-stroke:0.3px #bedcfa;">+763ms</div>
<div class="t" style="left:1005.60px;top:513.15px;font-size:14.9px;line-height:14.9px;font-weight:400;color:#212121;letter-spacing:-0.281px;">543</div>
<div class="t" style="left:1038.80px;top:513.15px;font-size:14.9px;line-height:14.9px;font-weight:400;color:#212121;letter-spacing:-0.139px;">mBar</div>
<div class="t" style="left:1339.15px;top:499.80px;font-size:10px;line-height:10px;font-weight:400;color:#bedcfa;letter-spacing:0.609px;-webkit-text-stroke:0.3px #bedcfa;">+763ms</div>
<div class="t" style="left:1324.60px;top:513.15px;font-size:14.9px;line-height:14.9px;font-weight:400;color:#212121;letter-spacing:-0.281px;">476</div>
<div class="t" style="left:1357.80px;top:513.15px;font-size:14.9px;line-height:14.9px;font-weight:400;color:#212121;letter-spacing:-0.139px;">mBar</div>
<div class="t" style="left:1654.55px;top:499.80px;font-size:10px;line-height:10px;font-weight:400;color:#bedcfa;letter-spacing:0.609px;-webkit-text-stroke:0.3px #bedcfa;">+763ms</div>
<div class="t" style="left:1642.80px;top:513.15px;font-size:14.9px;line-height:14.9px;font-weight:400;color:#212121;letter-spacing:0.167px;">49.1</div>
<div class="t" style="left:1680.80px;top:513.15px;font-size:14.9px;line-height:14.9px;font-weight:400;color:#212121;letter-spacing:0.000px;transform:scaleX(0.8677);transform-origin:0 0;">%rF</div>
<div class="t" style="left:293.60px;top:542.76px;font-size:15.55px;line-height:15.55px;font-weight:400;color:#212121;letter-spacing:-0.206px;">23.12.2025 12:04:57</div>
<div class="t" style="left:646.55px;top:538.75px;font-size:10px;line-height:10px;font-weight:400;color:#bedcfa;letter-spacing:0.609px;-webkit-text-stroke:0.3px #bedcfa;">+763ms</div>
<div class="t" style="left:635.40px;top:552.11px;font-size:14.9px;line-height:14.9px;font-weight:400;color:#212121;letter-spacing:0.105px;">19.61</div>
<div class="t" style="left:681.60px;top:552.11px;font-size:14.9px;line-height:14.9px;font-weight:400;color:#212121;letter-spacing:0.000px;transform:scaleX(0.8729);transform-origin:0 0;">°C</div>
<div class="t" style="left:1020.15px;top:538.75px;font-size:10px;line-height:10px;font-weight:400;color:#bedcfa;letter-spacing:0.609px;-webkit-text-stroke:0.3px #bedcfa;">+763ms</div>
<div class="t" style="left:1005.60px;top:552.11px;font-size:14.9px;line-height:14.9px;font-weight:400;color:#212121;letter-spacing:-0.281px;">552</div>
<div class="t" style="left:1038.80px;top:552.11px;font-size:14.9px;line-height:14.9px;font-weight:400;color:#212121;letter-spacing:-0.139px;">mBar</div>
<div class="t" style="left:1339.15px;top:538.75px;font-size:10px;line-height:10px;font-weight:400;color:#bedcfa;letter-spacing:0.609px;-webkit-text-stroke:0.3px #bedcfa;">+763ms</div>
<div class="t" style="left:1324.60px;top:552.11px;font-size:14.9px;line-height:14.9px;font-weight:400;color:#212121;letter-spacing:-0.281px;">471</div>
<div class="t" style="left:1357.80px;top:552.11px;font-size:14.9px;line-height:14.9px;font-weight:400;color:#212121;letter-spacing:-0.139px;">mBar</div>
<div class="t" style="left:1654.55px;top:538.75px;font-size:10px;line-height:10px;font-weight:400;color:#bedcfa;letter-spacing:0.609px;-webkit-text-stroke:0.3px #bedcfa;">+763ms</div>
<div class="t" style="left:1642.80px;top:552.11px;font-size:14.9px;line-height:14.9px;font-weight:400;color:#212121;letter-spacing:0.167px;">49.2</div>
<div class="t" style="left:1680.80px;top:552.11px;font-size:14.9px;line-height:14.9px;font-weight:400;color:#212121;letter-spacing:0.000px;transform:scaleX(0.8677);transform-origin:0 0;">%rF</div>
<div class="t" style="left:293.60px;top:581.72px;font-size:15.55px;line-height:15.55px;font-weight:400;color:#212121;letter-spacing:-0.206px;">23.12.2025 12:04:58</div>
<div class="t" style="left:646.55px;top:577.72px;font-size:10px;line-height:10px;font-weight:400;color:#bedcfa;letter-spacing:0.609px;-webkit-text-stroke:0.3px #bedcfa;">+763ms</div>
<div class="t" style="left:635.40px;top:591.07px;font-size:14.9px;line-height:14.9px;font-weight:400;color:#212121;letter-spacing:0.105px;">19.61</div>
<div class="t" style="left:681.60px;top:591.07px;font-size:14.9px;line-height:14.9px;font-weight:400;color:#212121;letter-spacing:0.000px;transform:scaleX(0.8729);transform-origin:0 0;">°C</div>
<div class="t" style="left:1020.15px;top:577.72px;font-size:10px;line-height:10px;font-weight:400;color:#bedcfa;letter-spacing:0.609px;-webkit-text-stroke:0.3px #bedcfa;">+763ms</div>
<div class="t" style="left:1005.60px;top:591.07px;font-size:14.9px;line-height:14.9px;font-weight:400;color:#212121;letter-spacing:-0.281px;">561</div>
<div class="t" style="left:1038.80px;top:591.07px;font-size:14.9px;line-height:14.9px;font-weight:400;color:#212121;letter-spacing:-0.139px;">mBar</div>
<div class="t" style="left:1339.15px;top:577.72px;font-size:10px;line-height:10px;font-weight:400;color:#bedcfa;letter-spacing:0.609px;-webkit-text-stroke:0.3px #bedcfa;">+763ms</div>
<div class="t" style="left:1324.60px;top:591.07px;font-size:14.9px;line-height:14.9px;font-weight:400;color:#212121;letter-spacing:-0.281px;">466</div>
<div class="t" style="left:1357.80px;top:591.07px;font-size:14.9px;line-height:14.9px;font-weight:400;color:#212121;letter-spacing:-0.139px;">mBar</div>
<div class="t" style="left:1654.55px;top:577.72px;font-size:10px;line-height:10px;font-weight:400;color:#bedcfa;letter-spacing:0.609px;-webkit-text-stroke:0.3px #bedcfa;">+763ms</div>
<div class="t" style="left:1642.80px;top:591.07px;font-size:14.9px;line-height:14.9px;font-weight:400;color:#212121;letter-spacing:0.167px;">49.2</div>
<div class="t" style="left:1680.80px;top:591.07px;font-size:14.9px;line-height:14.9px;font-weight:400;color:#212121;letter-spacing:0.000px;transform:scaleX(0.8677);transform-origin:0 0;">%rF</div>
<div class="t" style="left:293.60px;top:620.68px;font-size:15.55px;line-height:15.55px;font-weight:400;color:#212121;letter-spacing:-0.206px;">23.12.2025 12:04:59</div>
<div class="t" style="left:646.55px;top:616.67px;font-size:10px;line-height:10px;font-weight:400;color:#bedcfa;letter-spacing:0.609px;-webkit-text-stroke:0.3px #bedcfa;">+763ms</div>
<div class="t" style="left:635.40px;top:630.03px;font-size:14.9px;line-height:14.9px;font-weight:400;color:#212121;letter-spacing:0.105px;">19.62</div>
<div class="t" style="left:681.60px;top:630.03px;font-size:14.9px;line-height:14.9px;font-weight:400;color:#212121;letter-spacing:0.000px;transform:scaleX(0.8729);transform-origin:0 0;">°C</div>
<div class="t" style="left:1020.15px;top:616.67px;font-size:10px;line-height:10px;font-weight:400;color:#bedcfa;letter-spacing:0.609px;-webkit-text-stroke:0.3px #bedcfa;">+763ms</div>
<div class="t" style="left:1005.60px;top:630.03px;font-size:14.9px;line-height:14.9px;font-weight:400;color:#212121;letter-spacing:-0.281px;">570</div>
<div class="t" style="left:1038.80px;top:630.03px;font-size:14.9px;line-height:14.9px;font-weight:400;color:#212121;letter-spacing:-0.139px;">mBar</div>
<div class="t" style="left:1339.15px;top:616.67px;font-size:10px;line-height:10px;font-weight:400;color:#bedcfa;letter-spacing:0.609px;-webkit-text-stroke:0.3px #bedcfa;">+763ms</div>
<div class="t" style="left:1324.60px;top:630.03px;font-size:14.9px;line-height:14.9px;font-weight:400;color:#212121;letter-spacing:-0.281px;">461</div>
<div class="t" style="left:1357.80px;top:630.03px;font-size:14.9px;line-height:14.9px;font-weight:400;color:#212121;letter-spacing:-0.139px;">mBar</div>
<div class="t" style="left:1654.55px;top:616.67px;font-size:10px;line-height:10px;font-weight:400;color:#bedcfa;letter-spacing:0.609px;-webkit-text-stroke:0.3px #bedcfa;">+763ms</div>
<div class="t" style="left:1642.80px;top:630.03px;font-size:14.9px;line-height:14.9px;font-weight:400;color:#212121;letter-spacing:0.167px;">49.2</div>
<div class="t" style="left:1680.80px;top:630.03px;font-size:14.9px;line-height:14.9px;font-weight:400;color:#212121;letter-spacing:0.000px;transform:scaleX(0.8677);transform-origin:0 0;">%rF</div>
<div class="t" style="left:293.60px;top:659.64px;font-size:15.55px;line-height:15.55px;font-weight:400;color:#212121;letter-spacing:-0.206px;">23.12.2025 12:05:00</div>
<div class="t" style="left:646.55px;top:655.63px;font-size:10px;line-height:10px;font-weight:400;color:#bedcfa;letter-spacing:0.609px;-webkit-text-stroke:0.3px #bedcfa;">+763ms</div>
<div class="t" style="left:635.40px;top:668.99px;font-size:14.9px;line-height:14.9px;font-weight:400;color:#212121;letter-spacing:0.105px;">19.62</div>
<div class="t" style="left:681.60px;top:668.99px;font-size:14.9px;line-height:14.9px;font-weight:400;color:#212121;letter-spacing:0.000px;transform:scaleX(0.8729);transform-origin:0 0;">°C</div>
<div class="t" style="left:1020.15px;top:655.63px;font-size:10px;line-height:10px;font-weight:400;color:#bedcfa;letter-spacing:0.609px;-webkit-text-stroke:0.3px #bedcfa;">+763ms</div>
<div class="t" style="left:1005.60px;top:668.99px;font-size:14.9px;line-height:14.9px;font-weight:400;color:#212121;letter-spacing:-0.281px;">579</div>
<div class="t" style="left:1038.80px;top:668.99px;font-size:14.9px;line-height:14.9px;font-weight:400;color:#212121;letter-spacing:-0.139px;">mBar</div>
<div class="t" style="left:1339.15px;top:655.63px;font-size:10px;line-height:10px;font-weight:400;color:#bedcfa;letter-spacing:0.609px;-webkit-text-stroke:0.3px #bedcfa;">+763ms</div>
<div class="t" style="left:1324.60px;top:668.99px;font-size:14.9px;line-height:14.9px;font-weight:400;color:#212121;letter-spacing:-0.281px;">456</div>
<div class="t" style="left:1357.80px;top:668.99px;font-size:14.9px;line-height:14.9px;font-weight:400;color:#212121;letter-spacing:-0.139px;">mBar</div>
<div class="t" style="left:1654.55px;top:655.63px;font-size:10px;line-height:10px;font-weight:400;color:#bedcfa;letter-spacing:0.609px;-webkit-text-stroke:0.3px #bedcfa;">+763ms</div>
<div class="t" style="left:1642.80px;top:668.99px;font-size:14.9px;line-height:14.9px;font-weight:400;color:#212121;letter-spacing:0.167px;">49.2</div>
<div class="t" style="left:1680.80px;top:668.99px;font-size:14.9px;line-height:14.9px;font-weight:400;color:#212121;letter-spacing:0.000px;transform:scaleX(0.8677);transform-origin:0 0;">%rF</div>
<div class="t" style="left:293.60px;top:698.60px;font-size:15.55px;line-height:15.55px;font-weight:400;color:#212121;letter-spacing:-0.206px;">23.12.2025 12:05:01</div>
<div class="t" style="left:646.55px;top:694.60px;font-size:10px;line-height:10px;font-weight:400;color:#bedcfa;letter-spacing:0.609px;-webkit-text-stroke:0.3px #bedcfa;">+763ms</div>
<div class="t" style="left:635.40px;top:707.95px;font-size:14.9px;line-height:14.9px;font-weight:400;color:#212121;letter-spacing:0.105px;">19.63</div>
<div class="t" style="left:681.60px;top:707.95px;font-size:14.9px;line-height:14.9px;font-weight:400;color:#212121;letter-spacing:0.000px;transform:scaleX(0.8729);transform-origin:0 0;">°C</div>
<div class="t" style="left:1020.15px;top:694.60px;font-size:10px;line-height:10px;font-weight:400;color:#bedcfa;letter-spacing:0.609px;-webkit-text-stroke:0.3px #bedcfa;">+763ms</div>
<div class="t" style="left:1005.60px;top:707.95px;font-size:14.9px;line-height:14.9px;font-weight:400;color:#212121;letter-spacing:-0.281px;">588</div>
<div class="t" style="left:1038.80px;top:707.95px;font-size:14.9px;line-height:14.9px;font-weight:400;color:#212121;letter-spacing:-0.139px;">mBar</div>
<div class="t" style="left:1339.15px;top:694.60px;font-size:10px;line-height:10px;font-weight:400;color:#bedcfa;letter-spacing:0.609px;-webkit-text-stroke:0.3px #bedcfa;">+763ms</div>
<div class="t" style="left:1324.60px;top:707.95px;font-size:14.9px;line-height:14.9px;font-weight:400;color:#212121;letter-spacing:-0.281px;">450</div>
<div class="t" style="left:1357.80px;top:707.95px;font-size:14.9px;line-height:14.9px;font-weight:400;color:#212121;letter-spacing:-0.139px;">mBar</div>
<div class="t" style="left:1654.55px;top:694.60px;font-size:10px;line-height:10px;font-weight:400;color:#bedcfa;letter-spacing:0.609px;-webkit-text-stroke:0.3px #bedcfa;">+763ms</div>
<div class="t" style="left:1642.80px;top:707.95px;font-size:14.9px;line-height:14.9px;font-weight:400;color:#212121;letter-spacing:0.167px;">49.2</div>
<div class="t" style="left:1680.80px;top:707.95px;font-size:14.9px;line-height:14.9px;font-weight:400;color:#212121;letter-spacing:0.000px;transform:scaleX(0.8677);transform-origin:0 0;">%rF</div>
<div class="t" style="left:293.60px;top:737.56px;font-size:15.55px;line-height:15.55px;font-weight:400;color:#212121;letter-spacing:-0.206px;">23.12.2025 12:05:02</div>
<div class="t" style="left:646.55px;top:733.56px;font-size:10px;line-height:10px;font-weight:400;color:#bedcfa;letter-spacing:0.609px;-webkit-text-stroke:0.3px #bedcfa;">+763ms</div>
<div class="t" style="left:635.40px;top:746.91px;font-size:14.9px;line-height:14.9px;font-weight:400;color:#212121;letter-spacing:0.105px;">19.63</div>
<div class="t" style="left:681.60px;top:746.91px;font-size:14.9px;line-height:14.9px;font-weight:400;color:#212121;letter-spacing:0.000px;transform:scaleX(0.8729);transform-origin:0 0;">°C</div>
<div class="t" style="left:1020.15px;top:733.56px;font-size:10px;line-height:10px;font-weight:400;color:#bedcfa;letter-spacing:0.609px;-webkit-text-stroke:0.3px #bedcfa;">+763ms</div>
<div class="t" style="left:1005.60px;top:746.91px;font-size:14.9px;line-height:14.9px;font-weight:400;color:#212121;letter-spacing:-0.281px;">597</div>
<div class="t" style="left:1038.80px;top:746.91px;font-size:14.9px;line-height:14.9px;font-weight:400;color:#212121;letter-spacing:-0.139px;">mBar</div>
<div class="t" style="left:1339.15px;top:733.56px;font-size:10px;line-height:10px;font-weight:400;color:#bedcfa;letter-spacing:0.609px;-webkit-text-stroke:0.3px #bedcfa;">+763ms</div>
<div class="t" style="left:1324.60px;top:746.91px;font-size:14.9px;line-height:14.9px;font-weight:400;color:#212121;letter-spacing:-0.281px;">446</div>
<div class="t" style="left:1357.80px;top:746.91px;font-size:14.9px;line-height:14.9px;font-weight:400;color:#212121;letter-spacing:-0.139px;">mBar</div>
<div class="t" style="left:1654.55px;top:733.56px;font-size:10px;line-height:10px;font-weight:400;color:#bedcfa;letter-spacing:0.609px;-webkit-text-stroke:0.3px #bedcfa;">+763ms</div>
<div class="t" style="left:1642.80px;top:746.91px;font-size:14.9px;line-height:14.9px;font-weight:400;color:#212121;letter-spacing:0.167px;">49.2</div>
<div class="t" style="left:1680.80px;top:746.91px;font-size:14.9px;line-height:14.9px;font-weight:400;color:#212121;letter-spacing:0.000px;transform:scaleX(0.8677);transform-origin:0 0;">%rF</div>
<div class="t" style="left:293.60px;top:776.52px;font-size:15.55px;line-height:15.55px;font-weight:400;color:#212121;letter-spacing:-0.206px;">23.12.2025 12:05:03</div>
<div class="t" style="left:646.55px;top:772.51px;font-size:10px;line-height:10px;font-weight:400;color:#bedcfa;letter-spacing:0.609px;-webkit-text-stroke:0.3px #bedcfa;">+763ms</div>
<div class="t" style="left:635.40px;top:785.87px;font-size:14.9px;line-height:14.9px;font-weight:400;color:#212121;letter-spacing:0.105px;">19.63</div>
<div class="t" style="left:681.60px;top:785.87px;font-size:14.9px;line-height:14.9px;font-weight:400;color:#212121;letter-spacing:0.000px;transform:scaleX(0.8729);transform-origin:0 0;">°C</div>
<div class="t" style="left:1020.15px;top:772.51px;font-size:10px;line-height:10px;font-weight:400;color:#bedcfa;letter-spacing:0.609px;-webkit-text-stroke:0.3px #bedcfa;">+763ms</div>
<div class="t" style="left:1005.60px;top:785.87px;font-size:14.9px;line-height:14.9px;font-weight:400;color:#212121;letter-spacing:-0.281px;">606</div>
<div class="t" style="left:1038.80px;top:785.87px;font-size:14.9px;line-height:14.9px;font-weight:400;color:#212121;letter-spacing:-0.139px;">mBar</div>
<div class="t" style="left:1339.15px;top:772.51px;font-size:10px;line-height:10px;font-weight:400;color:#bedcfa;letter-spacing:0.609px;-webkit-text-stroke:0.3px #bedcfa;">+763ms</div>
<div class="t" style="left:1324.60px;top:785.87px;font-size:14.9px;line-height:14.9px;font-weight:400;color:#212121;letter-spacing:-0.281px;">441</div>
<div class="t" style="left:1357.80px;top:785.87px;font-size:14.9px;line-height:14.9px;font-weight:400;color:#212121;letter-spacing:-0.139px;">mBar</div>
<div class="t" style="left:1654.55px;top:772.51px;font-size:10px;line-height:10px;font-weight:400;color:#bedcfa;letter-spacing:0.609px;-webkit-text-stroke:0.3px #bedcfa;">+763ms</div>
<div class="t" style="left:1642.80px;top:785.87px;font-size:14.9px;line-height:14.9px;font-weight:400;color:#212121;letter-spacing:0.167px;">49.2</div>
<div class="t" style="left:1680.80px;top:785.87px;font-size:14.9px;line-height:14.9px;font-weight:400;color:#212121;letter-spacing:0.000px;transform:scaleX(0.8677);transform-origin:0 0;">%rF</div>
<div class="t" style="left:293.60px;top:815.48px;font-size:15.55px;line-height:15.55px;font-weight:400;color:#212121;letter-spacing:-0.206px;">23.12.2025 12:05:04</div>
<div class="t" style="left:646.55px;top:811.48px;font-size:10px;line-height:10px;font-weight:400;color:#bedcfa;letter-spacing:0.609px;-webkit-text-stroke:0.3px #bedcfa;">+763ms</div>
<div class="t" style="left:635.40px;top:824.83px;font-size:14.9px;line-height:14.9px;font-weight:400;color:#212121;letter-spacing:0.105px;">19.64</div>
<div class="t" style="left:681.60px;top:824.83px;font-size:14.9px;line-height:14.9px;font-weight:400;color:#212121;letter-spacing:0.000px;transform:scaleX(0.8729);transform-origin:0 0;">°C</div>
<div class="t" style="left:1020.15px;top:811.48px;font-size:10px;line-height:10px;font-weight:400;color:#bedcfa;letter-spacing:0.609px;-webkit-text-stroke:0.3px #bedcfa;">+763ms</div>
<div class="t" style="left:1005.60px;top:824.83px;font-size:14.9px;line-height:14.9px;font-weight:400;color:#212121;letter-spacing:-0.281px;">615</div>
<div class="t" style="left:1038.80px;top:824.83px;font-size:14.9px;line-height:14.9px;font-weight:400;color:#212121;letter-spacing:-0.139px;">mBar</div>
<div class="t" style="left:1339.15px;top:811.48px;font-size:10px;line-height:10px;font-weight:400;color:#bedcfa;letter-spacing:0.609px;-webkit-text-stroke:0.3px #bedcfa;">+763ms</div>
<div class="t" style="left:1324.60px;top:824.83px;font-size:14.9px;line-height:14.9px;font-weight:400;color:#212121;letter-spacing:-0.281px;">436</div>
<div class="t" style="left:1357.80px;top:824.83px;font-size:14.9px;line-height:14.9px;font-weight:400;color:#212121;letter-spacing:-0.139px;">mBar</div>
<div class="t" style="left:1654.55px;top:811.48px;font-size:10px;line-height:10px;font-weight:400;color:#bedcfa;letter-spacing:0.609px;-webkit-text-stroke:0.3px #bedcfa;">+763ms</div>
<div class="t" style="left:1642.80px;top:824.83px;font-size:14.9px;line-height:14.9px;font-weight:400;color:#212121;letter-spacing:0.167px;">49.3</div>
<div class="t" style="left:1680.80px;top:824.83px;font-size:14.9px;line-height:14.9px;font-weight:400;color:#212121;letter-spacing:0.000px;transform:scaleX(0.8677);transform-origin:0 0;">%rF</div>
<div class="t" style="left:293.60px;top:854.44px;font-size:15.55px;line-height:15.55px;font-weight:400;color:#212121;letter-spacing:-0.206px;">23.12.2025 12:05:05</div>
<div class="t" style="left:646.55px;top:850.44px;font-size:10px;line-height:10px;font-weight:400;color:#bedcfa;letter-spacing:0.609px;-webkit-text-stroke:0.3px #bedcfa;">+763ms</div>
<div class="t" style="left:635.40px;top:863.79px;font-size:14.9px;line-height:14.9px;font-weight:400;color:#212121;letter-spacing:0.105px;">19.64</div>
<div class="t" style="left:681.60px;top:863.79px;font-size:14.9px;line-height:14.9px;font-weight:400;color:#212121;letter-spacing:0.000px;transform:scaleX(0.8729);transform-origin:0 0;">°C</div>
<div class="t" style="left:1020.15px;top:850.44px;font-size:10px;line-height:10px;font-weight:400;color:#bedcfa;letter-spacing:0.609px;-webkit-text-stroke:0.3px #bedcfa;">+763ms</div>
<div class="t" style="left:1005.60px;top:863.79px;font-size:14.9px;line-height:14.9px;font-weight:400;color:#212121;letter-spacing:-0.281px;">624</div>
<div class="t" style="left:1038.80px;top:863.79px;font-size:14.9px;line-height:14.9px;font-weight:400;color:#212121;letter-spacing:-0.139px;">mBar</div>
<div class="t" style="left:1339.15px;top:850.44px;font-size:10px;line-height:10px;font-weight:400;color:#bedcfa;letter-spacing:0.609px;-webkit-text-stroke:0.3px #bedcfa;">+763ms</div>
<div class="t" style="left:1324.60px;top:863.79px;font-size:14.9px;line-height:14.9px;font-weight:400;color:#212121;letter-spacing:-0.281px;">431</div>
<div class="t" style="left:1357.80px;top:863.79px;font-size:14.9px;line-height:14.9px;font-weight:400;color:#212121;letter-spacing:-0.139px;">mBar</div>
<div class="t" style="left:1654.55px;top:850.44px;font-size:10px;line-height:10px;font-weight:400;color:#bedcfa;letter-spacing:0.609px;-webkit-text-stroke:0.3px #bedcfa;">+763ms</div>
<div class="t" style="left:1642.80px;top:863.79px;font-size:14.9px;line-height:14.9px;font-weight:400;color:#212121;letter-spacing:0.167px;">49.3</div>
<div class="t" style="left:1680.80px;top:863.79px;font-size:14.9px;line-height:14.9px;font-weight:400;color:#212121;letter-spacing:0.000px;transform:scaleX(0.8677);transform-origin:0 0;">%rF</div>
<div class="t" style="left:293.60px;top:893.40px;font-size:15.55px;line-height:15.55px;font-weight:400;color:#212121;letter-spacing:-0.206px;">23.12.2025 12:05:06</div>
<div class="t" style="left:646.55px;top:889.39px;font-size:10px;line-height:10px;font-weight:400;color:#bedcfa;letter-spacing:0.609px;-webkit-text-stroke:0.3px #bedcfa;">+763ms</div>
<div class="t" style="left:635.40px;top:902.75px;font-size:14.9px;line-height:14.9px;font-weight:400;color:#212121;letter-spacing:0.105px;">19.65</div>
<div class="t" style="left:681.60px;top:902.75px;font-size:14.9px;line-height:14.9px;font-weight:400;color:#212121;letter-spacing:0.000px;transform:scaleX(0.8729);transform-origin:0 0;">°C</div>
<div class="t" style="left:1020.15px;top:889.39px;font-size:10px;line-height:10px;font-weight:400;color:#bedcfa;letter-spacing:0.609px;-webkit-text-stroke:0.3px #bedcfa;">+763ms</div>
<div class="t" style="left:1005.60px;top:902.75px;font-size:14.9px;line-height:14.9px;font-weight:400;color:#212121;letter-spacing:-0.281px;">634</div>
<div class="t" style="left:1038.80px;top:902.75px;font-size:14.9px;line-height:14.9px;font-weight:400;color:#212121;letter-spacing:-0.139px;">mBar</div>
<div class="t" style="left:1339.15px;top:889.39px;font-size:10px;line-height:10px;font-weight:400;color:#bedcfa;letter-spacing:0.609px;-webkit-text-stroke:0.3px #bedcfa;">+763ms</div>
<div class="t" style="left:1324.60px;top:902.75px;font-size:14.9px;line-height:14.9px;font-weight:400;color:#212121;letter-spacing:-0.281px;">426</div>
<div class="t" style="left:1357.80px;top:902.75px;font-size:14.9px;line-height:14.9px;font-weight:400;color:#212121;letter-spacing:-0.139px;">mBar</div>
<div class="t" style="left:1654.55px;top:889.39px;font-size:10px;line-height:10px;font-weight:400;color:#bedcfa;letter-spacing:0.609px;-webkit-text-stroke:0.3px #bedcfa;">+763ms</div>
<div class="t" style="left:1642.80px;top:902.75px;font-size:14.9px;line-height:14.9px;font-weight:400;color:#212121;letter-spacing:0.167px;">49.3</div>
<div class="t" style="left:1680.80px;top:902.75px;font-size:14.9px;line-height:14.9px;font-weight:400;color:#212121;letter-spacing:0.000px;transform:scaleX(0.8677);transform-origin:0 0;">%rF</div>
<div class="t" style="left:293.60px;top:932.36px;font-size:15.55px;line-height:15.55px;font-weight:400;color:#212121;letter-spacing:-0.206px;">23.12.2025 12:05:07</div>
<div class="t" style="left:646.55px;top:928.36px;font-size:10px;line-height:10px;font-weight:400;color:#bedcfa;letter-spacing:0.609px;-webkit-text-stroke:0.3px #bedcfa;">+763ms</div>
<div class="t" style="left:635.40px;top:941.71px;font-size:14.9px;line-height:14.9px;font-weight:400;color:#212121;letter-spacing:0.105px;">19.65</div>
<div class="t" style="left:681.60px;top:941.71px;font-size:14.9px;line-height:14.9px;font-weight:400;color:#212121;letter-spacing:0.000px;transform:scaleX(0.8729);transform-origin:0 0;">°C</div>
<div class="t" style="left:1020.15px;top:928.36px;font-size:10px;line-height:10px;font-weight:400;color:#bedcfa;letter-spacing:0.609px;-webkit-text-stroke:0.3px #bedcfa;">+763ms</div>
<div class="t" style="left:1005.60px;top:941.71px;font-size:14.9px;line-height:14.9px;font-weight:400;color:#212121;letter-spacing:-0.281px;">643</div>
<div class="t" style="left:1038.80px;top:941.71px;font-size:14.9px;line-height:14.9px;font-weight:400;color:#212121;letter-spacing:-0.139px;">mBar</div>
<div class="t" style="left:1339.15px;top:928.36px;font-size:10px;line-height:10px;font-weight:400;color:#bedcfa;letter-spacing:0.609px;-webkit-text-stroke:0.3px #bedcfa;">+763ms</div>
<div class="t" style="left:1324.60px;top:941.71px;font-size:14.9px;line-height:14.9px;font-weight:400;color:#212121;letter-spacing:-0.281px;">422</div>
<div class="t" style="left:1357.80px;top:941.71px;font-size:14.9px;line-height:14.9px;font-weight:400;color:#212121;letter-spacing:-0.139px;">mBar</div>
<div class="t" style="left:1654.55px;top:928.36px;font-size:10px;line-height:10px;font-weight:400;color:#bedcfa;letter-spacing:0.609px;-webkit-text-stroke:0.3px #bedcfa;">+763ms</div>
<div class="t" style="left:1642.80px;top:941.71px;font-size:14.9px;line-height:14.9px;font-weight:400;color:#212121;letter-spacing:0.167px;">49.3</div>
<div class="t" style="left:1680.80px;top:941.71px;font-size:14.9px;line-height:14.9px;font-weight:400;color:#212121;letter-spacing:0.000px;transform:scaleX(0.8677);transform-origin:0 0;">%rF</div>
<div class="t" style="left:293.60px;top:971.32px;font-size:15.55px;line-height:15.55px;font-weight:400;color:#212121;letter-spacing:-0.206px;">23.12.2025 12:05:08</div>
<div class="t" style="left:646.55px;top:967.32px;font-size:10px;line-height:10px;font-weight:400;color:#bedcfa;letter-spacing:0.609px;-webkit-text-stroke:0.3px #bedcfa;">+763ms</div>
<div class="t" style="left:635.40px;top:980.67px;font-size:14.9px;line-height:14.9px;font-weight:400;color:#212121;letter-spacing:0.105px;">19.66</div>
<div class="t" style="left:681.60px;top:980.67px;font-size:14.9px;line-height:14.9px;font-weight:400;color:#212121;letter-spacing:0.000px;transform:scaleX(0.8729);transform-origin:0 0;">°C</div>
<div class="t" style="left:1020.15px;top:967.32px;font-size:10px;line-height:10px;font-weight:400;color:#bedcfa;letter-spacing:0.609px;-webkit-text-stroke:0.3px #bedcfa;">+763ms</div>
<div class="t" style="left:1005.60px;top:980.67px;font-size:14.9px;line-height:14.9px;font-weight:400;color:#212121;letter-spacing:-0.281px;">652</div>
<div class="t" style="left:1038.80px;top:980.67px;font-size:14.9px;line-height:14.9px;font-weight:400;color:#212121;letter-spacing:-0.139px;">mBar</div>
<div class="t" style="left:1339.15px;top:967.32px;font-size:10px;line-height:10px;font-weight:400;color:#bedcfa;letter-spacing:0.609px;-webkit-text-stroke:0.3px #bedcfa;">+763ms</div>
<div class="t" style="left:1324.60px;top:980.67px;font-size:14.9px;line-height:14.9px;font-weight:400;color:#212121;letter-spacing:-0.281px;">417</div>
<div class="t" style="left:1357.80px;top:980.67px;font-size:14.9px;line-height:14.9px;font-weight:400;color:#212121;letter-spacing:-0.139px;">mBar</div>
<div class="t" style="left:1654.55px;top:967.32px;font-size:10px;line-height:10px;font-weight:400;color:#bedcfa;letter-spacing:0.609px;-webkit-text-stroke:0.3px #bedcfa;">+763ms</div>
<div class="t" style="left:1642.80px;top:980.67px;font-size:14.9px;line-height:14.9px;font-weight:400;color:#212121;letter-spacing:0.167px;">49.3</div>
<div class="t" style="left:1680.80px;top:980.67px;font-size:14.9px;line-height:14.9px;font-weight:400;color:#212121;letter-spacing:0.000px;transform:scaleX(0.8677);transform-origin:0 0;">%rF</div>
<div class="t" style="left:293.60px;top:1010.28px;font-size:15.55px;line-height:15.55px;font-weight:400;color:#212121;letter-spacing:-0.206px;">23.12.2025 12:05:09</div>
<div class="t" style="left:646.55px;top:1006.27px;font-size:10px;line-height:10px;font-weight:400;color:#bedcfa;letter-spacing:0.609px;-webkit-text-stroke:0.3px #bedcfa;">+763ms</div>
<div class="t" style="left:635.40px;top:1019.63px;font-size:14.9px;line-height:14.9px;font-weight:400;color:#212121;letter-spacing:0.105px;">19.66</div>
<div class="t" style="left:681.60px;top:1019.63px;font-size:14.9px;line-height:14.9px;font-weight:400;color:#212121;letter-spacing:0.000px;transform:scaleX(0.8729);transform-origin:0 0;">°C</div>
<div class="t" style="left:1020.15px;top:1006.27px;font-size:10px;line-height:10px;font-weight:400;color:#bedcfa;letter-spacing:0.609px;-webkit-text-stroke:0.3px #bedcfa;">+763ms</div>
<div class="t" style="left:1005.60px;top:1019.63px;font-size:14.9px;line-height:14.9px;font-weight:400;color:#212121;letter-spacing:-0.281px;">661</div>
<div class="t" style="left:1038.80px;top:1019.63px;font-size:14.9px;line-height:14.9px;font-weight:400;color:#212121;letter-spacing:-0.139px;">mBar</div>
<div class="t" style="left:1339.15px;top:1006.27px;font-size:10px;line-height:10px;font-weight:400;color:#bedcfa;letter-spacing:0.609px;-webkit-text-stroke:0.3px #bedcfa;">+763ms</div>
<div class="t" style="left:1324.60px;top:1019.63px;font-size:14.9px;line-height:14.9px;font-weight:400;color:#212121;letter-spacing:-0.281px;">413</div>
<div class="t" style="left:1357.80px;top:1019.63px;font-size:14.9px;line-height:14.9px;font-weight:400;color:#212121;letter-spacing:-0.139px;">mBar</div>
<div class="t" style="left:1654.55px;top:1006.27px;font-size:10px;line-height:10px;font-weight:400;color:#bedcfa;letter-spacing:0.609px;-webkit-text-stroke:0.3px #bedcfa;">+763ms</div>
<div class="t" style="left:1642.80px;top:1019.63px;font-size:14.9px;line-height:14.9px;font-weight:400;color:#212121;letter-spacing:0.167px;">49.3</div>
<div class="t" style="left:1680.80px;top:1019.63px;font-size:14.9px;line-height:14.9px;font-weight:400;color:#212121;letter-spacing:0.000px;transform:scaleX(0.8677);transform-origin:0 0;">%rF</div>
<svg style="left:1870.00px;top:14.50px" width="26.400" height="25.200" viewBox="0 0 24 24" preserveAspectRatio="none"><path fill="#fff"  d="M12 22c1.1 0 2-.9 2-2h-4c0 1.1.9 2 2 2zm6-6v-5c0-3.07-1.63-5.64-4.5-6.32V4c0-.83-.67-1.5-1.5-1.5s-1.5.67-1.5 1.5v.68C7.64 5.36 6 7.92 6 11v5l-2 2v1h16v-1l-2-2zm-2 1H8v-6c0-2.48 1.51-4.5 4-4.5s4 2.02 4 4.5v6z"/></svg>
<svg style="left:1912.70px;top:14.70px" width="25.400" height="25.400" viewBox="0 0 24 24"><path fill="#fff"  d="M11 7h2v2h-2zm0 4h2v6h-2zm1-9C6.48 2 2 6.48 2 12s4.48 10 10 10 10-4.48 10-10S17.52 2 12 2zm0 18c-4.41 0-8-3.59-8-8s3.59-8 8-8 8 3.59 8 8-3.59 8-8 8z"/></svg>
<svg style="left:1954.70px;top:14.70px" width="25.400" height="25.400" viewBox="0 0 24 24"><path fill="#fff"  d="M12 2C6.48 2 2 6.48 2 12s4.48 10 10 10 10-4.48 10-10S17.52 2 12 2zM7.35 18.5C8.66 17.56 10.26 17 12 17s3.34.56 4.65 1.5c-1.31.94-2.91 1.5-4.65 1.5s-3.34-.56-4.65-1.5zm10.79-1.38C16.45 15.8 14.32 15 12 15s-4.45.8-6.14 2.12C4.7 15.73 4 13.95 4 12c0-4.42 3.58-8 8-8s8 3.58 8 8c0 1.95-.7 3.73-1.86 5.12zM12 6c-1.93 0-3.5 1.57-3.5 3.5S10.07 13 12 13s3.5-1.57 3.5-3.5S13.93 6 12 6zm0 5c-.83 0-1.5-.67-1.5-1.5S11.17 8 12 8s1.5.67 1.5 1.5S12.83 11 12 11z"/></svg>
<svg style="left:59.90px;top:69.50px" width="25.400" height="25.400" viewBox="0 0 24 24"><path fill="#f6f6fa"  d="M6 19h3v-6h6v6h3v-9l-6-4.5L6 10z"/></svg>
<svg style="left:59.90px;top:69.50px" width="25.400" height="25.400" viewBox="0 0 24 24"><path fill="#111"  d="M6 19h3v-6h6v6h3v-9l-6-4.5L6 10v9zm-2 2V9l8-6 8 6v12h-7v-6h-2v6H4z"/></svg>
<svg style="left:99.10px;top:122.10px" width="25.000" height="25.000" viewBox="0 0 24 24"><path fill="#213166"  d="M3.5 18.49l6-6.01 4 4L22 6.92l-1.41-1.41-7.09 7.97-4-4L2 16.99z"/></svg>
<svg style="left:161px;top:125.3px" width="18.6" height="18.6" viewBox="0 0 18.6 18.6"><rect x="0.95" y="0.95" width="16.700000000000003" height="16.700000000000003" rx="2" fill="none" stroke="#213166" stroke-width="1.9"/><rect x="0.95" y="5.72" width="16.700000000000003" height="1.6" fill="#213166"/><rect x="0.95" y="11.28" width="16.700000000000003" height="1.6" fill="#213166"/><circle cx="4.1" cy="3.73" r="0.95" fill="#213166"/><circle cx="4.1" cy="9.30" r="0.95" fill="#213166"/><circle cx="4.1" cy="14.87" r="0.95" fill="#213166"/></svg>
<svg style="left:84.2px;top:191.6px" width="19" height="19.2" viewBox="0 0 19 19.2"><rect x="0.95" y="0.95" width="17.1" height="17.3" rx="2" fill="none" stroke="#111" stroke-width="1.9"/><rect x="0.95" y="5.92" width="17.1" height="1.6" fill="#111"/><rect x="0.95" y="11.68" width="17.1" height="1.6" fill="#111"/><circle cx="4.1" cy="3.83" r="0.95" fill="#111"/><circle cx="4.1" cy="9.60" r="0.95" fill="#111"/><circle cx="4.1" cy="15.37" r="0.95" fill="#111"/></svg>
<svg style="left:1819.17px;top:121.87px" width="26.667" height="26.667" viewBox="0 0 24 24"><path fill="#111"  d="M12 8c1.1 0 2-.9 2-2s-.9-2-2-2-2 .9-2 2 .9 2 2 2zm0 2c-1.1 0-2 .9-2 2s.9 2 2 2 2-.9 2-2-.9-2-2-2zm0 6c-1.1 0-2 .9-2 2s.9 2 2 2 2-.9 2-2-.9-2-2-2z"/></svg>
<svg style="left:1862.20px;top:122.10px" width="25.600" height="25.600" viewBox="0 0 24 24"><path fill="#111"  d="M21 11V3h-8v2h4.59L5 17.59V13H3v8h8v-2H6.41L19 6.41V11z"/></svg>
<svg style="left:1904.20px;top:122.00px" width="25.400" height="25.400" viewBox="-12 -12 24 24"><g fill="#111"><circle r="7.55"/><path transform="rotate(0)" d="M-3.2 -6.7L-2.75 -10H2.75L3.2 -6.7z"/><path transform="rotate(60)" d="M-3.2 -6.7L-2.75 -10H2.75L3.2 -6.7z"/><path transform="rotate(120)" d="M-3.2 -6.7L-2.75 -10H2.75L3.2 -6.7z"/><path transform="rotate(180)" d="M-3.2 -6.7L-2.75 -10H2.75L3.2 -6.7z"/><path transform="rotate(240)" d="M-3.2 -6.7L-2.75 -10H2.75L3.2 -6.7z"/><path transform="rotate(300)" d="M-3.2 -6.7L-2.75 -10H2.75L3.2 -6.7z"/></g><g fill="#fbfbfd"><circle r="5.6"/><path transform="rotate(0)" d="M-1.4 -5.3L-1 -8H1L1.4 -5.3z"/><path transform="rotate(60)" d="M-1.4 -5.3L-1 -8H1L1.4 -5.3z"/><path transform="rotate(120)" d="M-1.4 -5.3L-1 -8H1L1.4 -5.3z"/><path transform="rotate(180)" d="M-1.4 -5.3L-1 -8H1L1.4 -5.3z"/><path transform="rotate(240)" d="M-1.4 -5.3L-1 -8H1L1.4 -5.3z"/><path transform="rotate(300)" d="M-1.4 -5.3L-1 -8H1L1.4 -5.3z"/></g><circle r="3.1" fill="#1c1c1c"/></svg>
<svg style="left:1940px;top:118px" width="36" height="34" viewBox="1940 118 36 34"><rect x="1950.05" y="126.75" width="17.3" height="16.4" rx="1.5" fill="#fdfdfe" stroke="#111" stroke-width="2.1"/><rect x="1953.1" y="129.2" width="9" height="3.4" fill="#111"/><circle cx="1959" cy="138" r="3.3" fill="#1c1c1c"/></svg>
<div class="a" style="left:1964.1px;top:121.9px;width:10.8px;height:10.8px;border-radius:50%;background:#50e3c2"></div>
<svg style="left:1520px;top:118px" width="30" height="30" viewBox="1520 118 30 30">
<rect x="1526.7" y="125.8" width="13.7" height="15.6" rx="1.7" fill="none" stroke="#213166" stroke-width="1.5"/>
<path fill="#213166" d="M1530.6 127.5v-1.700q0-1.300 1.300-1.300h.4a1.400 1.400 0 0 1 2.800 0h.4q1.300 0 1.300 1.300v1.700z"/>
<rect x="1529" y="124.800" width="1.500" height="2" fill="#50e3c2"/><rect x="1536.900" y="124.800" width="1.500" height="2" fill="#50e3c2"/>
<g fill="#213166" opacity="0.62"><rect x="1529.400" y="129.400" width="8.500" height="1.500"/><rect x="1529.400" y="132" width="8.500" height="1"/><rect x="1529.400" y="134.200" width="8.500" height="1.200"/><rect x="1529.400" y="136.900" width="5.500" height="1"/></g>
</svg>
<svg style="left:1640px;top:122px" width="26" height="26" viewBox="1640 122 26 26">
<path fill="none" stroke="#213166" stroke-width="1.700" stroke-linecap="round" d="M1646.300 131.300A6.100 6.100 0 1 1 1645.900 137.300"/>
<path fill="#213166" d="M1644.100 128.100v5h4.800z"/>
<path fill="none" stroke="#213166" stroke-width="1.700" stroke-linecap="round" stroke-linejoin="round" d="M1651.500 131.200v3.800l2.500 2.300"/>
</svg>
<svg style="left:379.60px;top:191.40px" width="24.000" height="24.000" viewBox="0 0 24 24"><path fill="#111"  d="M3.5 18.49l6-6.01 4 4L22 6.92l-1.41-1.41-7.09 7.97-4-4L2 16.99z"/></svg>
<svg style="left:1756px;top:193.8px" width="20" height="19.2" viewBox="0 0 20 19.2"><rect x="0" y="0" width="20" height="19.2" rx="2.6" fill="#fff"/><rect x="3.2" y="2.5" width="13.8" height="2.5" fill="#213166"/><rect x="3.2" y="8.2" width="13.8" height="2.5" fill="#213166"/><rect x="3.2" y="14.2" width="13.8" height="2.5" fill="#213166"/></svg>
<svg style="left:1788.20px;top:190.60px" width="25.600" height="25.600" viewBox="0 0 24 24"><path fill="#111"  d="M18 4H6v2l6.5 6L6 18v2h12v-3h-7l5-5-5-5h7z"/></svg>
<svg style="left:1834.50px;top:190.90px" width="25.000" height="25.000" viewBox="0 0 24 24"><path fill="#111"  d="M7 9H2V7h5v2zm0 3H2v2h5v-2zm13.59 7l-3.83-3.83c-.8.52-1.74.83-2.76.83-2.76 0-5-2.24-5-5s2.24-5 5-5 5 2.24 5 5c0 1.02-.31 1.96-.83 2.75L22 17.59 20.590 19zM17 11c0-1.650-1.350-3-3-3s-3 1.350-3 3 1.350 3 3 3 3-1.350 3-3zM2 19h10v-2H2v2z"/></svg>
<svg style="left:1878.75px;top:190.55px" width="25.500" height="25.500" viewBox="0 0 24 24"><path fill="#213166"  d="M7 6h10l-5.010 6.300L7 6zm-2.750-.390C6.270 8.200 10 13 10 13v6c0 .550.450 1 1 1h2c.550 0 1-.450 1-1v-6s3.720-4.800 5.740-7.390c.510-.660.040-1.610-.790-1.610H5.040c-.830 0-1.300.950-.790 1.610z"/></svg>
<svg style="left:1925.40px;top:190.80px" width="25.200" height="25.200" viewBox="-12 -12 24 24"><g fill="#111"><circle r="7.55"/><path transform="rotate(0)" d="M-3.2 -6.7L-2.75 -10H2.75L3.2 -6.7z"/><path transform="rotate(60)" d="M-3.2 -6.7L-2.75 -10H2.75L3.2 -6.7z"/><path transform="rotate(120)" d="M-3.2 -6.7L-2.75 -10H2.75L3.2 -6.7z"/><path transform="rotate(180)" d="M-3.2 -6.7L-2.75 -10H2.75L3.2 -6.7z"/><path transform="rotate(240)" d="M-3.2 -6.7L-2.75 -10H2.75L3.2 -6.7z"/><path transform="rotate(300)" d="M-3.2 -6.7L-2.75 -10H2.75L3.2 -6.7z"/></g><g fill="#fff"><circle r="5.6"/><path transform="rotate(0)" d="M-1.4 -5.3L-1 -8H1L1.4 -5.3z"/><path transform="rotate(60)" d="M-1.4 -5.3L-1 -8H1L1.4 -5.3z"/><path transform="rotate(120)" d="M-1.4 -5.3L-1 -8H1L1.4 -5.3z"/><path transform="rotate(180)" d="M-1.4 -5.3L-1 -8H1L1.4 -5.3z"/><path transform="rotate(240)" d="M-1.4 -5.3L-1 -8H1L1.4 -5.3z"/><path transform="rotate(300)" d="M-1.4 -5.3L-1 -8H1L1.4 -5.3z"/></g><circle r="3.1" fill="#1c1c1c"/></svg>
<svg style="left:150.60px;top:265.20px" width="20.000" height="20.000" viewBox="0 0 24 24"><path fill="#8a8a8a"  d="M7.41 15.41L12 10.830l4.590 4.580L18 14l-6-6-6 6z"/></svg>
<svg style="left:181.90px;top:265.20px" width="20.000" height="20.000" viewBox="0 0 24 24"><path fill="#8a8a8a"  d="M7.41 8.590L12 13.170l4.590-4.580L18 10l-6 6-6-6z"/></svg>
<svg style="left:965.35px;top:262.65px" width="17.300" height="17.300" viewBox="0 0 24 24"><path fill="#111"  d="M3.5 18.49l6-6.01 4 4L22 6.92l-1.41-1.41-7.09 7.97-4-4L2 16.99z"/></svg>
<svg style="left:1284.35px;top:262.65px" width="17.300" height="17.300" viewBox="0 0 24 24"><path fill="#111"  d="M3.5 18.49l6-6.01 4 4L22 6.92l-1.41-1.41-7.09 7.97-4-4L2 16.99z"/></svg>
<svg style="left:1603.25px;top:262.65px" width="17.300" height="17.300" viewBox="0 0 24 24"><path fill="#111"  d="M3.5 18.49l6-6.01 4 4L22 6.92l-1.41-1.41-7.09 7.97-4-4L2 16.99z"/></svg>
<svg style="left:1923.95px;top:262.65px" width="17.300" height="17.300" viewBox="0 0 24 24"><path fill="#111"  d="M3.5 18.49l6-6.01 4 4L22 6.92l-1.41-1.41-7.09 7.97-4-4L2 16.99z"/></svg>
</body></html>
